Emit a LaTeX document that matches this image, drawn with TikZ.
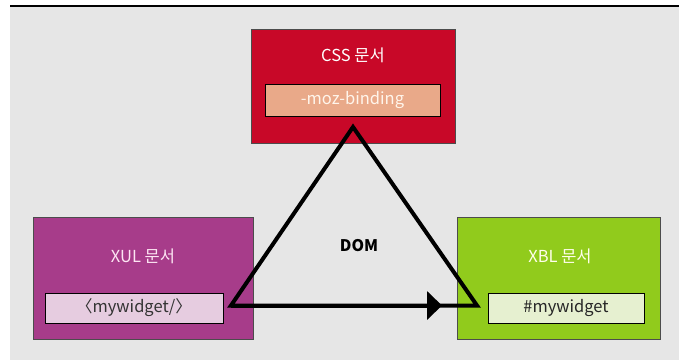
\documentclass[tikz,border=0pt]{standalone}
\usepackage{fontspec}
\setmainfont{Noto Sans CJK KR}
\usetikzlibrary{positioning,arrows.meta}
\definecolor{cssred}{RGB}{200,8,40}
\definecolor{csssalmon}{RGB}{233,169,137}
\definecolor{xulpurple}{RGB}{167,60,138}
\definecolor{xulpink}{RGB}{230,204,224}
\definecolor{xblgreen}{RGB}{145,203,28}
\definecolor{xbllight}{RGB}{230,240,208}
\definecolor{bggray}{RGB}{230,230,230}

\begin{document}
\begin{tikzpicture}[x=1pt, y=-1pt,
    doc/.style={rectangle, draw=black!70, line width=0.8pt, inner sep=0pt},
    inbox/.style={rectangle, draw=black, line width=0.8pt, inner sep=0pt, font=\fontsize{16.5}{19}\selectfont},
    title/.style={font=\fontsize{16.5}{19}\selectfont}]
    \useasboundingbox (0,0) rectangle (679,360);
    \fill[bggray] (10,7) rectangle (679,360);
    \draw[line width=2.5pt] (10,6) -- (679,6);

    \node[doc, fill=cssred, minimum width=204pt, minimum height=114pt] (css) at (353,86) {};
    \node[title, text=white] (csstitle) at (353,55) {CSS 문서};
    \node[inbox, fill=csssalmon, text=white!92!orange, minimum width=175pt, minimum height=32pt] (binding) at (352.5,100) {-moz-binding};

    \node[doc, fill=xulpurple, minimum width=220pt, minimum height=122pt] (xul) at (143,278) {};
    \node[title, text=white!90!magenta] (xultitle) at (143,256) {XUL 문서};
    \node[inbox, fill=xulpink, text=black!80, minimum width=178pt, minimum height=30pt] (xulwidget) at (134,308) {〈mywidget/〉};

    \node[doc, fill=xblgreen, minimum width=203pt, minimum height=122pt] (xbl) at (558.5,278) {};
    \node[title, text=white!92!yellow] (xbltitle) at (560,256) {XBL 문서};
    \node[inbox, fill=xbllight, text=black!85, minimum width=156pt, minimum height=30pt] (xblwidget) at (566,308) {\#mywidget};

    \node[title, font=\fontsize{16}{19}\selectfont\bfseries] (dom) at (359,246) {DOM};

    \coordinate (apex) at (353,127);
    \coordinate (left) at (231,305.5);
    \coordinate (right) at (477,305.5);
    \coordinate (tip) at (442,305.5);
    \draw[line width=4pt] (left) -- (apex) -- (right) -- cycle;
    \draw[line width=4pt, -{Triangle[length=15pt, width=28pt]}] (left) -- (tip);
\end{tikzpicture}
\end{document}
